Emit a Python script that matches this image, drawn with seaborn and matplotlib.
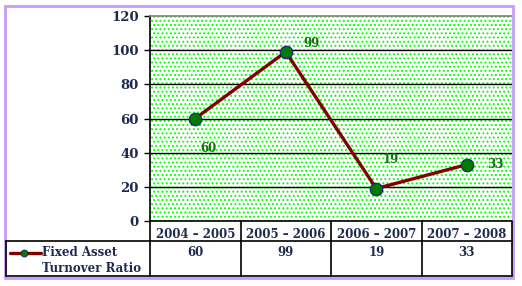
import numpy as np
import pandas as pd
import matplotlib
matplotlib.use("Agg")
import matplotlib.pyplot as plt
import matplotlib.transforms as mtransforms
from matplotlib.lines import Line2D
from matplotlib.patches import Rectangle
import seaborn as sns

periods = ["2004 – 2005", "2005 – 2006", "2006 – 2007", "2007 – 2008"]
ratio = [60, 99, 19, 33]
yticks = [0, 20, 40, 60, 80, 100, 120]

sns.set_style("white")
plt.rcParams["font.family"] = ["DejaVu Serif"]
plt.rcParams["font.weight"] = "bold"
plt.rcParams["hatch.linewidth"] = 0.9

W, H = 522, 286
fig = plt.figure(figsize=(W / 100, H / 100), dpi=100)
fig.patch.set_facecolor("white")

def fx(x):
    return x / W

def fy(y):
    return 1 - y / H

L, R, T, B = 150, 512, 16, 221
ax = fig.add_axes([fx(L), fy(B), fx(R) - fx(L), fy(T) - fy(B)])

navy = "#1c2a4e"
lblgreen = "#1d6b1d"

# dotted green background (hatch)
ax.add_patch(Rectangle((0, 0), 1, 1, transform=ax.transAxes, facecolor="white",
                       edgecolor="#00ff00", hatch="....", lw=0, zorder=0))

df = pd.DataFrame({"period": periods, "ratio": ratio})
sns.lineplot(data=df, x="period", y="ratio", ax=ax, color="#800000", lw=2.4,
             marker="o", markersize=9, markerfacecolor="#007a00",
             markeredgecolor="#1a1a8a", markeredgewidth=0.8, zorder=5)

ax.set_xlim(-0.5, len(periods) - 0.5)
ax.set_ylim(0, 120)
ax.set_yticks(yticks)
ax.set_yticklabels([str(v) for v in yticks], color=navy, fontsize=9.5, fontweight="bold")
for v in yticks[1:-1]:
    ax.axhline(v, color="black", lw=1, zorder=2)
ax.set_xticks(range(len(periods)))
ax.set_xticklabels(periods, color=navy, fontsize=8.5, fontweight="bold")
ax.tick_params(axis="x", length=0, pad=5)
ax.tick_params(axis="y", length=4, width=1, color="black", direction="out", pad=4, left=True)
ax.set_xlabel("")
ax.set_ylabel("")
for s in ["left", "bottom"]:
    ax.spines[s].set_color("black")
    ax.spines[s].set_linewidth(1.2)
ax.spines["top"].set_color("#808080")
ax.spines["top"].set_linewidth(1.2)
ax.spines["right"].set_visible(False)

# data labels
offsets = [(5, -30), (18, 8), (6, 29), (20, 0)]
for i, (v, off) in enumerate(zip(ratio, offsets)):
    ax.annotate(str(v), (i, v), xytext=off, textcoords="offset pixels",
                ha="left", va="center", color=lblgreen, fontsize=8.5,
                fontweight="bold", zorder=6)

# table grid lines
def hline(y, x0, x1):
    fig.add_artist(Line2D([fx(x0), fx(x1)], [fy(y), fy(y)], color="black", lw=1.2))

def vline(x, y0, y1):
    fig.add_artist(Line2D([fx(x), fx(x)], [fy(y0), fy(y1)], color="black", lw=1.2))

tb = 276
hline(241, 6, R)
hline(tb, 6, R)
vline(6, 241, tb)
vline(L, B, tb)
vline(R, B, tb)
trans = mtransforms.blended_transform_factory(ax.transData, fig.transFigure)
for i in range(len(periods) - 1):
    fig.add_artist(Line2D([i + 0.5, i + 0.5], [fy(B), fy(tb)], color="black",
                          lw=1.2, transform=trans))

# value row
for i, v in enumerate(ratio):
    fig.text(i, fy(253), str(v), transform=trans, ha="center", va="center",
             color=navy, fontsize=8.5, fontweight="bold")

# legend cell
fig.add_artist(Line2D([fx(10), fx(41)], [fy(253), fy(253)], color="#800000", lw=2.4))
fig.add_artist(Line2D([fx(23.5)], [fy(253)], color="#800000", marker="o", markersize=5,
                      markerfacecolor="#007a00", markeredgecolor="#1a1a8a",
                      markeredgewidth=0.6, lw=0))
fig.text(fx(42), fy(253), "Fixed Asset", ha="left", va="center", color=navy,
         fontsize=8.5, fontweight="bold")
fig.text(fx(42), fy(269), "Turnover Ratio", ha="left", va="center", color=navy,
         fontsize=8.5, fontweight="bold")

# purple outer border
fig.add_artist(Rectangle((fx(5), fy(278)), fx(513) - fx(5), fy(6) - fy(278),
                         transform=fig.transFigure, fill=False,
                         edgecolor="#c89cf8", lw=2))

fig.savefig("out.png", dpi=100)
